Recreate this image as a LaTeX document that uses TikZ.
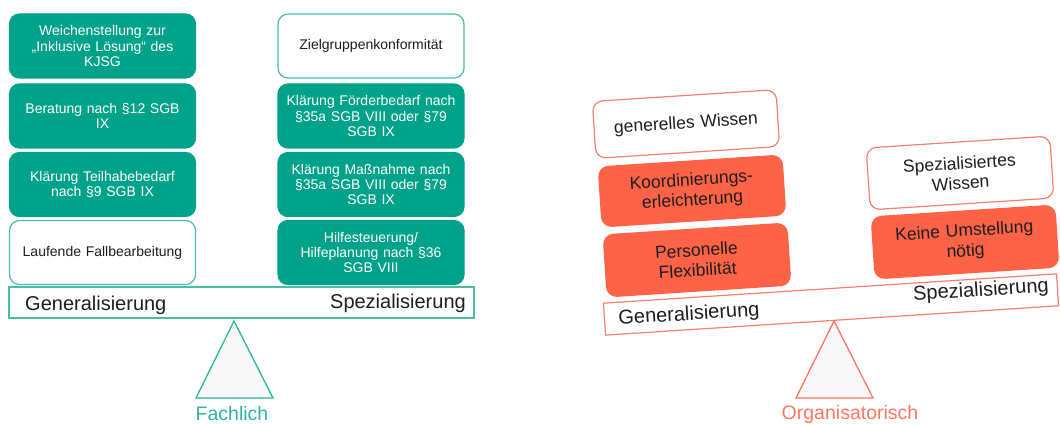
\documentclass[tikz,border=0pt]{standalone}
\usepackage{fontspec}
\setmainfont{Liberation Sans}
\definecolor{teal1}{RGB}{0,163,138}
\definecolor{teal2}{RGB}{72,190,168}
\definecolor{teal3}{RGB}{45,182,156}
\definecolor{tom1}{RGB}{255,99,71}
\definecolor{tom2}{RGB}{244,128,110}
\definecolor{tom3}{RGB}{255,118,98}
\definecolor{txt}{RGB}{30,30,30}
\definecolor{trifill}{RGB}{248,248,248}
\begin{document}
\begin{tikzpicture}[x=1pt,y=-1pt,
  boxbase/.style={minimum width=186pt,minimum height=64pt,inner sep=0pt,rounded corners=10pt,
     text width=180pt,align=center,line width=1.2pt,font=\fontsize{14}{15.2}\selectfont},
  tealbox/.style={boxbase,fill=teal1,draw=teal1,text=white},
  whitebox/.style={boxbase,fill=white,draw=teal2,text=txt},
  obase/.style={minimum width=184pt,minimum height=60pt,inner sep=0pt,rounded corners=10pt,
     text width=178pt,align=center,line width=1.2pt,rotate=3.7,font=\fontsize{17.5}{20}\selectfont},
  redbox/.style={obase,fill=tom1,draw=tom1,text=txt},
  owhitebox/.style={obase,fill=white,draw=tom2,text=txt},
  beamlabel/.style={font=\fontsize{20}{22}\selectfont,text=txt,inner sep=0pt},
  tri/.style={line width=1.3pt,fill=trifill,line join=miter},
  caption/.style={font=\fontsize{19.5}{22}\selectfont,inner sep=0pt}
]
\useasboundingbox (0,0) rectangle (1060,425);

% ---------- Fachlich ----------
\node[tealbox] (w1) at (102.5,46) {Weichenstellung zur\\ „Inklusive Lösung“ des\\ KJSG};
\node[tealbox] (w2) at (102.5,116) {Beratung nach §12 SGB\\ IX};
\node[tealbox] (w3) at (102.5,184.5) {Klärung Teilhabebedarf\\ nach §9 SGB IX};
\node[whitebox] (w4) at (102.5,252.5) {Laufende Fallbearbeitung};

\node[whitebox] (s1) at (371,46) {Zielgruppenkonformität};
\node[tealbox] (s2) at (371,116) {Klärung Förderbedarf nach\\ §35a SGB VIII oder §79\\ SGB IX};
\node[tealbox] (s3) at (371,184.5) {Klärung Maßnahme nach\\ §35a SGB VIII oder §79\\ SGB IX};
\node[tealbox] (s4) at (371,252.5) {Hilfesteuerung/\\ Hilfeplanung nach §36\\ SGB VIII};

\node[draw=teal2,line width=1.2pt,minimum width=465pt,minimum height=31pt,inner sep=0pt] (beamF) at (241.5,302.5) {};
\node[beamlabel,anchor=base west] (genF) at (25,310) {Generalisierung};
\node[beamlabel,anchor=base east] (speF) at (466,308) {Spezialisierung};

\draw[tri,draw=teal3] (234,321) -- (273,398) -- (196,398) -- cycle;
\node[caption,text=teal3] (fach) at (232,414) {Fachlich};

% ---------- Organisatorisch ----------
\node[owhitebox,minimum height=57pt] (o1) at (686,124) {generelles Wissen};
\node[redbox] (o2) at (692,191) {Koordinierungs-\\ erleichterung};
\node[redbox,minimum height=62pt] (o3) at (697,260) {Personelle\\ Flexibilität};
\node[owhitebox,minimum height=62pt] (o4) at (960,173) {Spezialisiertes\\ Wissen};
\node[redbox,minimum height=62pt] (o5) at (965,242) {Keine Umstellung\\ nötig};

\node[draw=tom2,fill=white,line width=1.2pt,minimum width=454pt,minimum height=32pt,inner sep=0pt,rotate=3.7] (beamO) at (831,304.5) {};
\node[beamlabel,rotate=3.7] (genO) at (689,315) {Generalisierung};
\node[beamlabel,rotate=3.7] (speO) at (981,291) {Spezialisierung};

\draw[tri,draw=tom3] (834,321) -- (873,398) -- (796,398) -- cycle;
\node[caption,text=tom3] (orga) at (850,414) {Organisatorisch};
\end{tikzpicture}
\end{document}
